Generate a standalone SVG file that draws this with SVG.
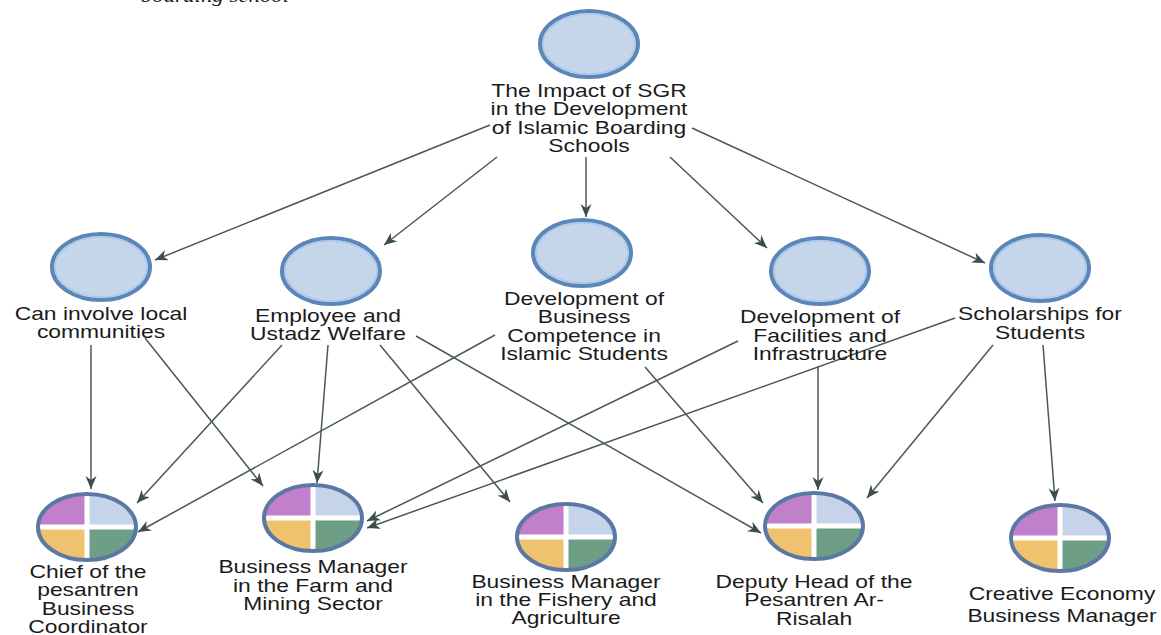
<svg xmlns="http://www.w3.org/2000/svg" xmlns:xlink="http://www.w3.org/1999/xlink" width="1161" height="635" viewBox="0 0 1161 635">
  <style>
    .lbl { font-family: "Liberation Sans", Arial, sans-serif; font-size: 18px; fill: #1b1b1b; text-anchor: middle; }
    .caption { font-family: "Liberation Serif", "Times New Roman", serif; font-style: italic; font-size: 18px; fill: #1b1b1b; text-anchor: middle; }
    .edge { stroke: #4a5858; stroke-width: 1.5; fill: none; marker-end: url(#arrow); }
    .theme { fill: #c5d6eb; stroke: #5a86b8; stroke-width: 4; }
    .theme-inner { fill: none; stroke: #abc8ea; stroke-width: 1.5; }
  </style>
  <defs>
    <marker id="arrow" markerUnits="userSpaceOnUse" markerWidth="14" markerHeight="12" refX="13" refY="5.5" orient="auto">
      <path d="M0,0 L13,5.5 L0,11 L4,5.5 Z" fill="#3b4d4d"/>
    </marker>
    <!-- plain theme node -->
    <g id="theme">
      <ellipse class="theme" rx="49" ry="33"/>
      <ellipse class="theme-inner" rx="46" ry="30"/>
    </g>
    <!-- four-quadrant role node -->
    <g id="role">
      <ellipse rx="49" ry="33" fill="#ffffff"/>
      <path d="M0,0 H-49 A49,33 0 0 1 0,-33 Z" fill="#c27fcc"/>
      <path d="M0,0 V-33 A49,33 0 0 1 49,0 Z" fill="#c6d4ea"/>
      <path d="M0,0 V33 A49,33 0 0 1 -49,0 Z" fill="#efc26e"/>
      <path d="M0,0 H49 A49,33 0 0 1 0,33 Z" fill="#6e9e86"/>
      <path d="M-49,0 H49 M0,-33 V33" stroke="#ffffff" stroke-width="5"/>
      <ellipse rx="49" ry="33" fill="none" stroke="#5a78a3" stroke-width="4"/>
    </g>
  </defs>

  <rect width="1161" height="635" fill="#ffffff"/>

  <!-- running caption from the page above, clipped at the top edge -->
  <g transform="translate(215,0) scale(1.27,1)">
    <text class="caption" x="0" y="2">boarding school</text>
  </g>

  <!-- connectors -->
  <g id="connectors">
    <line class="edge" x1="490" y1="125" x2="155" y2="260"/>
    <line class="edge" x1="497" y1="157" x2="384" y2="245"/>
    <line class="edge" x1="586" y1="157" x2="586" y2="217"/>
    <line class="edge" x1="670" y1="157" x2="767" y2="248"/>
    <line class="edge" x1="692" y1="128" x2="985" y2="263"/>

    <line class="edge" x1="91" y1="345" x2="91" y2="489"/>
    <line class="edge" x1="145" y1="338" x2="263" y2="486"/>
    <line class="edge" x1="282" y1="345" x2="137" y2="503"/>
    <line class="edge" x1="328" y1="345" x2="317" y2="483"/>
    <line class="edge" x1="380" y1="345" x2="510" y2="502"/>
    <line class="edge" x1="416" y1="336" x2="761" y2="533"/>
    <line class="edge" x1="495" y1="335" x2="138" y2="532"/>
    <line class="edge" x1="645" y1="367" x2="763" y2="503"/>
    <line class="edge" x1="738" y1="341" x2="367" y2="521"/>
    <line class="edge" x1="818" y1="366" x2="818" y2="490"/>
    <line class="edge" x1="955" y1="318" x2="367" y2="528"/>
    <line class="edge" x1="993" y1="345" x2="867" y2="498"/>
    <line class="edge" x1="1043" y1="345" x2="1055" y2="501"/>
  </g>

  <!-- nodes -->
  <g id="impact">
    <use xlink:href="#theme" href="#theme" x="589" y="44"/>
    <g transform="translate(589,0) scale(1.27,1)">
      <text class="lbl"><tspan x="0" y="97">The Impact of SGR</tspan><tspan x="0" y="115">in the Development</tspan><tspan x="0" y="134">of Islamic Boarding</tspan><tspan x="0" y="152">Schools</tspan></text>
    </g>
  </g>

  <g id="local-communities">
    <use xlink:href="#theme" href="#theme" x="101" y="267"/>
    <g transform="translate(101,0) scale(1.27,1)">
      <text class="lbl"><tspan x="0" y="320">Can involve local</tspan><tspan x="0" y="338">communities</tspan></text>
    </g>
  </g>

  <g id="welfare">
    <use xlink:href="#theme" href="#theme" x="331" y="271"/>
    <g transform="translate(328,0) scale(1.27,1)">
      <text class="lbl"><tspan x="0" y="322">Employee and</tspan><tspan x="0" y="340">Ustadz Welfare</tspan></text>
    </g>
  </g>

  <g id="competence">
    <use xlink:href="#theme" href="#theme" x="582" y="253"/>
    <g transform="translate(584,0) scale(1.27,1)">
      <text class="lbl"><tspan x="0" y="305">Development of</tspan><tspan x="0" y="323">Business</tspan><tspan x="0" y="342">Competence in</tspan><tspan x="0" y="360">Islamic Students</tspan></text>
    </g>
  </g>

  <g id="facilities">
    <use xlink:href="#theme" href="#theme" x="820" y="271"/>
    <g transform="translate(820,0) scale(1.27,1)">
      <text class="lbl"><tspan x="0" y="323">Development of</tspan><tspan x="0" y="342">Facilities and</tspan><tspan x="0" y="360">Infrastructure</tspan></text>
    </g>
  </g>

  <g id="scholarships">
    <use xlink:href="#theme" href="#theme" x="1040" y="268"/>
    <g transform="translate(1040,0) scale(1.27,1)">
      <text class="lbl"><tspan x="0" y="320">Scholarships for</tspan><tspan x="0" y="339">Students</tspan></text>
    </g>
  </g>

  <g id="chief-coordinator">
    <use xlink:href="#role" href="#role" x="87" y="527"/>
    <g transform="translate(88,0) scale(1.27,1)">
      <text class="lbl"><tspan x="0" y="578">Chief of the</tspan><tspan x="0" y="596">pesantren</tspan><tspan x="0" y="615">Business</tspan><tspan x="0" y="633">Coordinator</tspan></text>
    </g>
  </g>

  <g id="farm-mining">
    <use xlink:href="#role" href="#role" x="313" y="518"/>
    <g transform="translate(313,0) scale(1.27,1)">
      <text class="lbl"><tspan x="0" y="573">Business Manager</tspan><tspan x="0" y="592">in the Farm and</tspan><tspan x="0" y="610">Mining Sector</tspan></text>
    </g>
  </g>

  <g id="fishery-agriculture">
    <use xlink:href="#role" href="#role" x="566" y="537"/>
    <g transform="translate(566,0) scale(1.27,1)">
      <text class="lbl"><tspan x="0" y="588">Business Manager</tspan><tspan x="0" y="606">in the Fishery and</tspan><tspan x="0" y="624">Agriculture</tspan></text>
    </g>
  </g>

  <g id="deputy-head">
    <use xlink:href="#role" href="#role" x="814" y="526"/>
    <g transform="translate(814,0) scale(1.27,1)">
      <text class="lbl"><tspan x="0" y="588">Deputy Head of the</tspan><tspan x="0" y="606">Pesantren Ar-</tspan><tspan x="0" y="625">Risalah</tspan></text>
    </g>
  </g>

  <g id="creative-economy">
    <use xlink:href="#role" href="#role" x="1060" y="538"/>
    <g transform="translate(1062,0) scale(1.27,1)">
      <text class="lbl"><tspan x="0" y="600">Creative Economy</tspan><tspan x="0" y="622">Business Manager</tspan></text>
    </g>
  </g>
</svg>
